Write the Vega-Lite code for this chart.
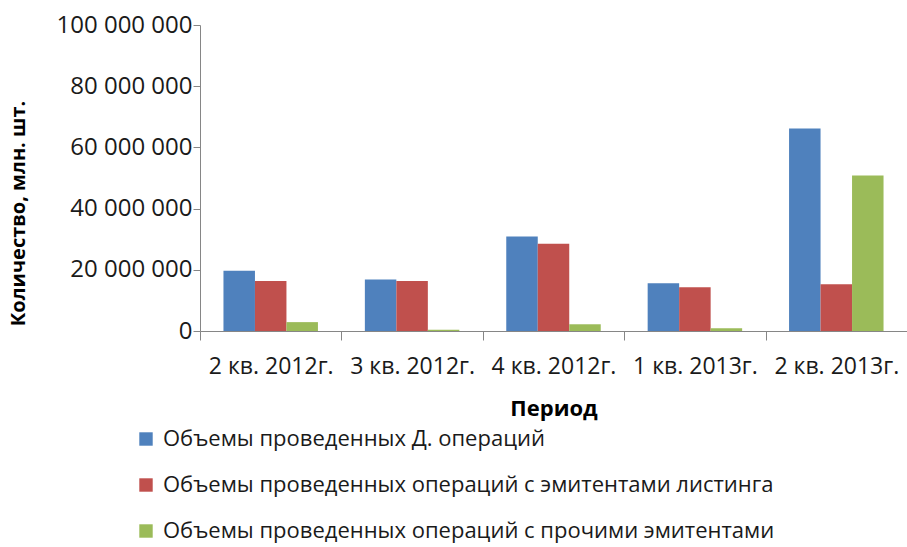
{
  "$schema": "https://vega.github.io/schema/vega-lite/v6.json",
  "autosize": {"type": "none"},
  "padding": {"left": 200, "top": 25, "right": 0, "bottom": 216},
  "width": 707,
  "height": 306,
  "background": "white",
  "config": {"view": {"stroke": null}, "font": "Open Sans"},
  "data": {"values": [
    {"period": "2 кв. 2012г.", "series": "Объемы проведенных Д. операций", "value": 19700000},
    {"period": "2 кв. 2012г.", "series": "Объемы проведенных операций с эмитентами листинга", "value": 16300000},
    {"period": "2 кв. 2012г.", "series": "Объемы проведенных операций с прочими эмитентами", "value": 2900000},
    {"period": "3 кв. 2012г.", "series": "Объемы проведенных Д. операций", "value": 16800000},
    {"period": "3 кв. 2012г.", "series": "Объемы проведенных операций с эмитентами листинга", "value": 16300000},
    {"period": "3 кв. 2012г.", "series": "Объемы проведенных операций с прочими эмитентами", "value": 400000},
    {"period": "4 кв. 2012г.", "series": "Объемы проведенных Д. операций", "value": 30900000},
    {"period": "4 кв. 2012г.", "series": "Объемы проведенных операций с эмитентами листинга", "value": 28500000},
    {"period": "4 кв. 2012г.", "series": "Объемы проведенных операций с прочими эмитентами", "value": 2200000},
    {"period": "1 кв. 2013г.", "series": "Объемы проведенных Д. операций", "value": 15600000},
    {"period": "1 кв. 2013г.", "series": "Объемы проведенных операций с эмитентами листинга", "value": 14300000},
    {"period": "1 кв. 2013г.", "series": "Объемы проведенных операций с прочими эмитентами", "value": 900000},
    {"period": "2 кв. 2013г.", "series": "Объемы проведенных Д. операций", "value": 66200000},
    {"period": "2 кв. 2013г.", "series": "Объемы проведенных операций с эмитентами листинга", "value": 15300000},
    {"period": "2 кв. 2013г.", "series": "Объемы проведенных операций с прочими эмитентами", "value": 50800000}
  ]},
  "mark": {"type": "bar"},
  "encoding": {
    "x": {
      "field": "period", "type": "nominal", "sort": null,
      "scale": {"paddingInner": 0, "paddingOuter": 0},
      "axis": {
        "title": "Период", "titleFontSize": 22, "titleFontWeight": "bold", "titleColor": "#000",
        "titlePadding": 20,
        "labelAngle": 0, "labelFontSize": 23, "labelColor": "#1a1a1a", "labelPadding": 15,
        "tickBand": "extent", "tickSize": 9, "tickColor": "#868686", "domainColor": "#868686",
        "labelLimit": 200
      }
    },
    "xOffset": {
      "field": "series", "type": "nominal", "sort": null,
      "scale": {"paddingInner": 0, "paddingOuter": 0.745}
    },
    "y": {
      "field": "value", "type": "quantitative",
      "scale": {"domain": [0, 100000000], "nice": false},
      "axis": {
        "title": "Количество, млн. шт.", "titleFontSize": 20, "titleFontWeight": "bold", "titleColor": "#000",
        "titleX": -182, "titleY": 188, "titleBaseline": "middle", "titleAlign": "center", "titleAngle": -90,
        "values": [0, 20000000, 40000000, 60000000, 80000000, 100000000],
        "labelExpr": "replace(format(datum.value, ','), /,/g, ' ')",
        "labelFontSize": 24, "labelColor": "#1a1a1a", "labelPadding": 1,
        "grid": false, "tickSize": 7, "tickColor": "#868686", "domainColor": "#868686"
      }
    },
    "color": {
      "field": "series", "type": "nominal", "sort": null,
      "scale": {
        "domain": ["Объемы проведенных Д. операций", "Объемы проведенных операций с эмитентами листинга", "Объемы проведенных операций с прочими эмитентами"],
        "range": ["#4F81BD", "#C0504D", "#9BBB59"]
      },
      "legend": {
        "title": null, "orient": "none", "legendX": -65, "legendY": 403,
        "direction": "vertical", "symbolType": "square", "symbolSize": 180,
        "symbolStrokeWidth": 0, "labelFontSize": 22, "labelColor": "#1a1a1a",
        "labelOffset": 6, "rowPadding": 24, "labelLimit": 800
      }
    }
  }
}
